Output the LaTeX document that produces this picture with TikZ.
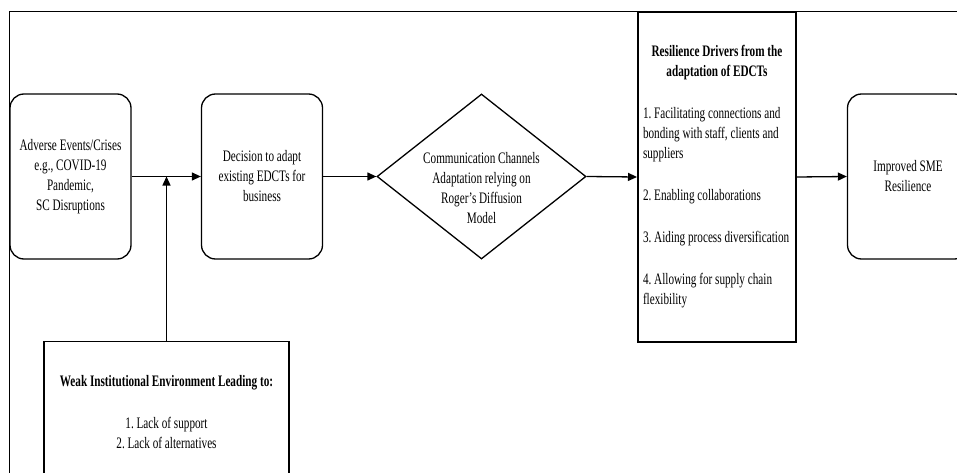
\documentclass[tikz,border=0pt]{standalone}
\usepackage{fontspec}
\setmainfont{Liberation Serif}[FakeStretch=0.7]
\usetikzlibrary{arrows.meta, shapes.geometric, calc}

\begin{document}
\begin{tikzpicture}[x=1pt, y=-1pt,
    every node/.style={font=\fontsize{16}{20}\selectfont\frenchspacing},
    roundbox/.style={draw, line width=1.3pt, rounded corners=14pt, minimum width=121pt, minimum height=165pt, align=center, inner sep=2pt},
    sqbox/.style={draw, line width=1.3pt, inner sep=5pt},
    arr/.style={-{Triangle[length=9pt, width=8pt]}, line width=1.3pt}]
    \useasboundingbox (0,0) rectangle (957,473);
    \clip (0,0) rectangle (957,473);

    % Outer frame
    \draw[line width=0.9pt] (9,480) -- (9,11) -- (965,11);

    % Main flow
    \node[roundbox] (adverse) at (70.5,176.5) {Adverse Events/Crises\\ e.g., COVID-19\\ Pandemic,\\ SC Disruptions};
    \node[roundbox] (decision) at (262,176.5) {Decision to adapt\\ existing EDCTs for\\ business};
    \node[draw, diamond, line width=1.3pt, minimum width=209pt, minimum height=165pt, inner sep=0pt] (comm) at (481.5,176.5) {};
    \node[align=center] (commtext) at (481.5,188) {Communication Channels\\ Adaptation relying on\\ Roger's Diffusion\\ Model};
    \node[sqbox, line width=2pt, minimum width=158pt, minimum height=330pt, align=left] (drivers) at (717,177) {\makebox[148pt]{\bfseries Resilience Drivers from the}\\ \makebox[148pt]{\bfseries adaptation of EDCTs}\\[22pt] 1. Facilitating connections and\\ bonding with staff, clients and\\ suppliers\\[22pt] 2. Enabling collaborations\\[22pt] 3. Aiding process diversification\\[22pt] 4. Allowing for supply chain\\ flexibility};
    \node[roundbox] (sme) at (908,176.5) {Improved SME\\ Resilience};

    % Institutional environment
    \node[sqbox, anchor=north, minimum width=245pt, minimum height=140pt, align=center] (weak) at (166.5,341) {\textbf{Weak Institutional Environment Leading to:}\\[22pt] 1. Lack of support\\ 2. Lack of alternatives};

    % Arrows
    \draw[arr] (adverse.east) -- (decision.west);
    \draw[arr] (decision.east) -- (comm.west);
    \draw[arr] (comm.east) -- (drivers.west);
    \draw[arr] (drivers.east) -- (sme.west);
    \draw[arr] (weak.north) -- (weak.north |- adverse.east);
\end{tikzpicture}
\end{document}
